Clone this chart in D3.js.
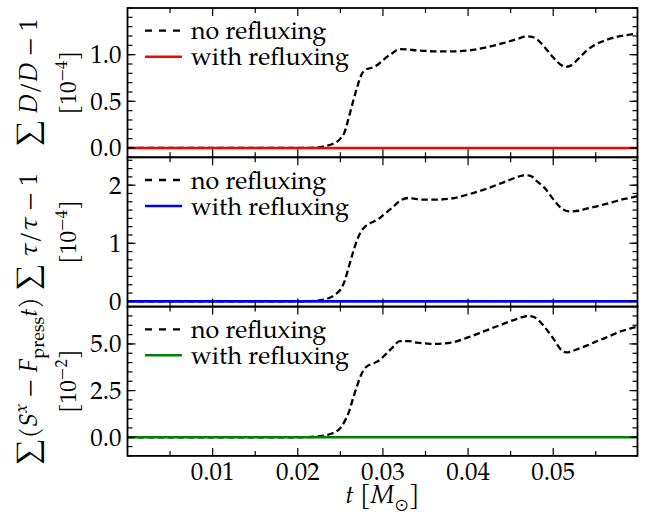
<!DOCTYPE html>
<html><head><meta charset="utf-8">
<script src="https://cdn.jsdelivr.net/npm/d3@7"></script>
<style>body{margin:0;background:#fff}</style>
</head><body><svg id="c" width="647" height="517"></svg>
<script>
// ---- data ----
const tGrid = [0, 0.005, 0.01, 0.015, 0.02, 0.022, 0.023, 0.024, 0.0245, 0.025, 0.0255, 0.026, 0.0265, 0.027, 0.0275, 0.028, 0.029, 0.0295, 0.030, 0.031, 0.032, 0.033, 0.034, 0.035, 0.036, 0.038, 0.040, 0.042, 0.044, 0.046, 0.0465, 0.047, 0.0475, 0.048, 0.049, 0.050, 0.051, 0.0515, 0.052, 0.053, 0.054, 0.055, 0.056, 0.057, 0.058, 0.059, 0.0599];
const noRefluxD = [0, 0, 0, 0, 0, 0.005, 0.015, 0.04, 0.06, 0.1, 0.17, 0.33, 0.5, 0.66, 0.79, 0.84, 0.87, 0.9, 0.94, 1.01, 1.06, 1.055, 1.045, 1.04, 1.035, 1.035, 1.045, 1.075, 1.12, 1.175, 1.19, 1.195, 1.19, 1.17, 1.08, 0.97, 0.885, 0.87, 0.88, 0.96, 1.05, 1.11, 1.15, 1.18, 1.2, 1.215, 1.225];
const noRefluxTau = [0, 0, 0, 0, 0, 0.01, 0.03, 0.08, 0.13, 0.2, 0.35, 0.6, 0.85, 1.07, 1.22, 1.3, 1.38, 1.42, 1.48, 1.6, 1.73, 1.78, 1.76, 1.75, 1.75, 1.77, 1.84, 1.93, 2.04, 2.15, 2.17, 2.17, 2.15, 2.08, 1.95, 1.76, 1.6, 1.56, 1.55, 1.56, 1.6, 1.63, 1.67, 1.71, 1.75, 1.78, 1.81];
const noRefluxS = [0, 0, 0, 0, 0, 0.03, 0.08, 0.2, 0.3, 0.5, 0.85, 1.35, 2.1, 2.8, 3.4, 3.75, 3.98, 4.1, 4.3, 4.75, 5.15, 5.15, 5.07, 5.03, 5.0, 5.07, 5.35, 5.7, 6.05, 6.38, 6.45, 6.5, 6.48, 6.38, 5.9, 5.3, 4.65, 4.55, 4.58, 4.75, 4.92, 5.12, 5.3, 5.5, 5.68, 5.82, 5.92];
const tWith = [0, 0.0599];
const withD = [0, 0];
const withTau = [0, 0];
const withS = [0, 0];
const xTicksMajor = [0.01, 0.02, 0.03, 0.04, 0.05];
const xTickLabels = ["0.01", "0.02", "0.03", "0.04", "0.05"];
const yTicksD = [0, 0.5, 1.0], yLabelsD = ["0.0", "0.5", "1.0"];
const yTicksTau = [0, 1, 2], yLabelsTau = ["0", "1", "2"];
const yTicksS = [0, 2.5, 5.0], yLabelsS = ["0.0", "2.5", "5.0"];
const legendLabels = ["no refluxing", "with refluxing"];

// ---- layout ----
const svg = d3.select("#c");
const FONT = "'TeX Gyre Pagella', 'Liberation Serif', serif";
const FS = 25;
const L = 127.5, R = 637.5, PH = 149.3;
const tops = [8, 157.3, 306.6];
const x = d3.scaleLinear().domain([0, 0.0599]).range([L, R]);

const panels = [
  {noR: noRefluxD, withR: withD, color: "#ff0000", dom: [-0.1, 1.5], ticks: yTicksD, labels: yLabelsD, minorStep: 0.1,
   label: [{t:"∑",big:1},{t:" "},{t:"D",i:1},{t:"/"},{t:"D",i:1},{t:" − 1"}], exp: "−4"},
  {noR: noRefluxTau, withR: withTau, color: "#0000ff", dom: [-0.09, 2.48], ticks: yTicksTau, labels: yLabelsTau, minorStep: 1/7,
   label: [{t:"∑",big:1},{t:" "},{t:"τ",i:1},{t:"/"},{t:"τ",i:1},{t:" − 1"}], exp: "−4"},
  {noR: noRefluxS, withR: withS, color: "#008000", dom: [-1, 7], ticks: yTicksS, labels: yLabelsS, minorStep: 0.5,
   label: [{t:"∑",big:1},{t:"("},{t:"S",i:1},{t:"x",i:1,sup:1},{t:" − "},{t:"F",i:1},{t:"press",sub:1},{t:"t",i:1},{t:")"}], exp: "−2"}
];

function richText(sel, parts, size) {
  let shift = 0;
  parts.forEach(p => {
    const sp = sel.append("tspan").text(p.t);
    if (p.i) sp.attr("font-style", "italic");
    if (p.big) sp.attr("font-size", size*1.1);
    let target = p.sup ? -0.4*size : (p.sub ? 0.28*size : 0);
    if (p.sup || p.sub) sp.attr("font-size", size*0.72);
    if (target !== shift) { sp.attr("dy", target - shift); shift = target; }
  });
}

panels.forEach((p, k) => {
  const top = tops[k], bot = top + PH;
  const y = d3.scaleLinear().domain(p.dom).range([bot, top]);
  const g = svg.append("g");
  const clipId = "clip" + k;
  svg.append("clipPath").attr("id", clipId).append("rect").attr("x", L).attr("y", top).attr("width", R-L).attr("height", PH);

  const line = d3.line().x(d => x(d[0])).y(d => y(d[1])).curve(d3.curveMonotoneX);
  g.append("path").datum(tGrid.map((t, i) => [t, p.noR[i]]))
    .attr("d", line).attr("fill", "none").attr("stroke", "#000").attr("stroke-width", 2.3)
    .attr("stroke-dasharray", "6.5,3.5").attr("clip-path", `url(#${clipId})`);
  g.append("path").datum(tWith.map((t, i) => [t, p.withR[i]]))
    .attr("d", d3.line().x(d => x(d[0])).y(d => y(d[1]))).attr("fill", "none")
    .attr("stroke", p.color).attr("stroke-width", 2.6).attr("clip-path", `url(#${clipId})`);

  // ticks
  const minorX = d3.range(0.005, 0.06, 0.01);
  const tk = g.append("g").attr("stroke", "#000").attr("stroke-width", 1.2);
  xTicksMajor.forEach(v => {
    tk.append("line").attr("x1", x(v)).attr("x2", x(v)).attr("y1", bot).attr("y2", bot-8);
    tk.append("line").attr("x1", x(v)).attr("x2", x(v)).attr("y1", top).attr("y2", top+8);
  });
  minorX.forEach(v => {
    tk.append("line").attr("x1", x(v)).attr("x2", x(v)).attr("y1", bot).attr("y2", bot-5);
    tk.append("line").attr("x1", x(v)).attr("x2", x(v)).attr("y1", top).attr("y2", top+5);
  });
  p.ticks.forEach(v => {
    tk.append("line").attr("x1", L).attr("x2", L+8).attr("y1", y(v)).attr("y2", y(v));
    tk.append("line").attr("x1", R).attr("x2", R-8).attr("y1", y(v)).attr("y2", y(v));
  });
  const minorY = d3.range(Math.ceil(p.dom[0]/p.minorStep), Math.floor(p.dom[1]/p.minorStep)+1).map(n => n*p.minorStep);
  minorY.forEach(v => {
    tk.append("line").attr("x1", L).attr("x2", L+5).attr("y1", y(v)).attr("y2", y(v));
    tk.append("line").attr("x1", R).attr("x2", R-5).attr("y1", y(v)).attr("y2", y(v));
  });
  // y tick labels
  p.ticks.forEach((v, i) => {
    g.append("text").attr("x", L-6).attr("y", y(v)).attr("dy", "0.34em").attr("text-anchor", "end")
      .attr("font-family", FONT).attr("font-size", FS).text(p.labels[i]);
  });
  // frame
  g.append("rect").attr("x", L).attr("y", top).attr("width", R-L).attr("height", PH)
    .attr("fill", "none").attr("stroke", "#000").attr("stroke-width", 1.8);

  // legend
  const lg = g.append("g");
  const ly1 = top + 22.7, ly2 = top + 48.7;
  lg.append("line").attr("x1", 145).attr("x2", 182).attr("y1", ly1).attr("y2", ly1)
    .attr("stroke", "#000").attr("stroke-width", 2.3).attr("stroke-dasharray", "7,7");
  lg.append("line").attr("x1", 145).attr("x2", 182).attr("y1", ly2).attr("y2", ly2)
    .attr("stroke", p.color).attr("stroke-width", 2.6);
  [ly1, ly2].forEach((ly, j) => {
    lg.append("text").attr("x", 191).attr("y", ly + 8.6).attr("font-family", FONT)
      .attr("font-size", FS).text(legendLabels[j]);
  });

  // y label
  const cy = top + PH/2;
  const t1 = svg.append("text").attr("transform", `translate(37,${cy}) rotate(-90)`)
    .attr("text-anchor", "middle").attr("font-family", FONT).attr("font-size", FS);
  richText(t1, p.label, FS);
  const t2 = svg.append("text").attr("transform", `translate(76,${cy}) rotate(-90)`)
    .attr("text-anchor", "middle").attr("font-family", FONT).attr("font-size", 23);
  richText(t2, [{t:"[10"},{t:p.exp,sup:1},{t:"]"}], 23);
});

// x tick labels
xTicksMajor.forEach((v, i) => {
  svg.append("text").attr("x", x(v)).attr("y", 480).attr("text-anchor", "middle")
    .attr("font-family", FONT).attr("font-size", FS).text(xTickLabels[i]);
});
const xl = svg.append("text").attr("x", (L+R)/2).attr("y", 503).attr("text-anchor", "middle")
  .attr("font-family", FONT).attr("font-size", FS);
richText(xl, [{t:"t",i:1},{t:" ["},{t:"M",i:1},{t:"⊙",sub:1},{t:"]"}], FS);
</script></body></html>
